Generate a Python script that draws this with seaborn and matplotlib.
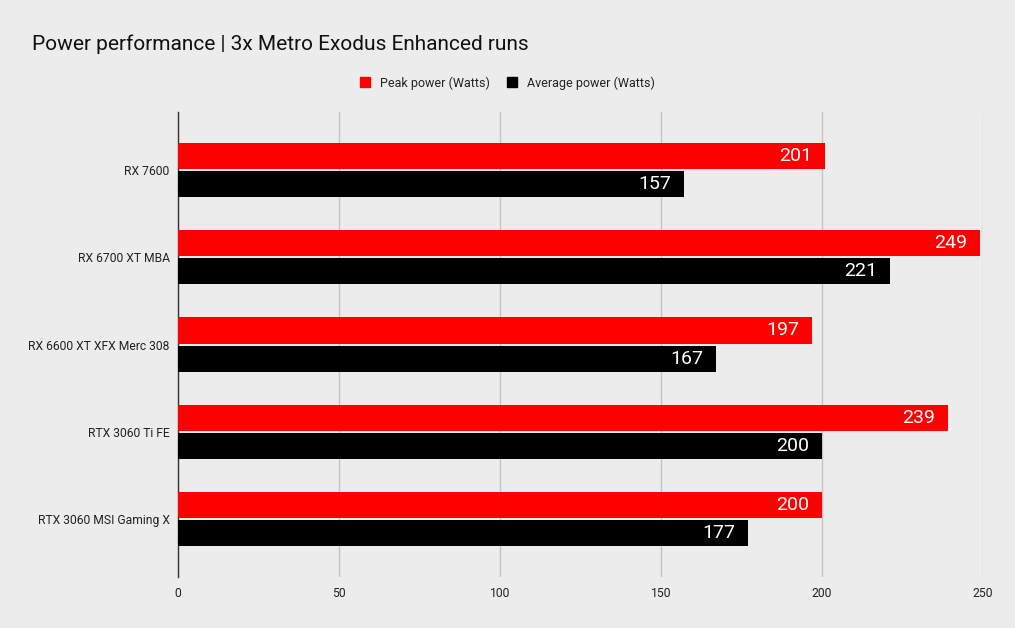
import matplotlib
matplotlib.use('Agg')
import matplotlib.pyplot as plt
from matplotlib.patches import Patch
import pandas as pd
import seaborn as sns

# chart data
gpus = ['RX 7600', 'RX 6700 XT MBA', 'RX 6600 XT XFX Merc 308', 'RTX 3060 Ti FE', 'RTX 3060 MSI Gaming X']
peak_power = [201, 249, 197, 239, 200]
avg_power = [157, 221, 167, 200, 177]
series = ['Peak power (Watts)', 'Average power (Watts)']
x_ticks = [0, 50, 100, 150, 200, 250]

bg = '#ececec'
colors = ['#ff0000', '#000000']

df = pd.DataFrame({
    'gpu': gpus * 2,
    'watts': peak_power + avg_power,
    'metric': [series[0]] * len(gpus) + [series[1]] * len(gpus),
})

sns.set_theme(style='white')
plt.rcParams['font.family'] = ['Roboto', 'DejaVu Sans']

fig = plt.figure(figsize=(10.15, 6.28), dpi=100, facecolor=bg)
ax = fig.add_axes([0.1754, 0.0812, 0.7931, 0.7404], facecolor=bg)

sns.barplot(data=df, y='gpu', x='watts', hue='metric', orient='h',
            palette=colors, width=0.644, gap=0.07, order=gpus,
            hue_order=series, saturation=1, ax=ax, legend=False,
            linewidth=0, zorder=3)

# value labels inside the bar ends
for p in ax.patches:
    w = p.get_width()
    ax.text(w - 4, p.get_y() + p.get_height() / 2, f'{int(round(w))}',
            ha='right', va='center', color='white', fontsize=14, zorder=4)

ax.set_xlim(0, 250)
ax.set_ylim(len(gpus) - 1 + 0.667, -0.667)
ax.set_xticks(x_ticks)
ax.set_xticklabels([str(t) for t in x_ticks])
ax.xaxis.grid(True, color='#c4c4c4', linewidth=1, zorder=0)
ax.yaxis.grid(False)
ax.set_axisbelow(True)
ax.set_xlabel('')
ax.set_ylabel('')
ax.tick_params(axis='both', length=0, labelsize=8.7, colors='#222222')
ax.tick_params(axis='x', pad=7)
ax.tick_params(axis='y', pad=6)
for s in ['top', 'right', 'bottom']:
    ax.spines[s].set_visible(False)
ax.spines['left'].set_color('#333333')
ax.spines['left'].set_linewidth(1)

fig.text(0.0315, 0.93, 'Power performance | 3x Metro Exodus Enhanced runs',
         fontsize=15, ha='left', va='center', color='#111111')

handles = [Patch(facecolor=c, edgecolor=c) for c in colors]
fig.legend(handles, series, loc='center', bbox_to_anchor=(0.5, 0.868), ncol=2,
           frameon=False, fontsize=9, handlelength=0.8, handleheight=0.8,
           handletextpad=0.8, columnspacing=1.4, labelcolor='#222222')

fig.savefig('out.png', dpi=100, facecolor=bg)
